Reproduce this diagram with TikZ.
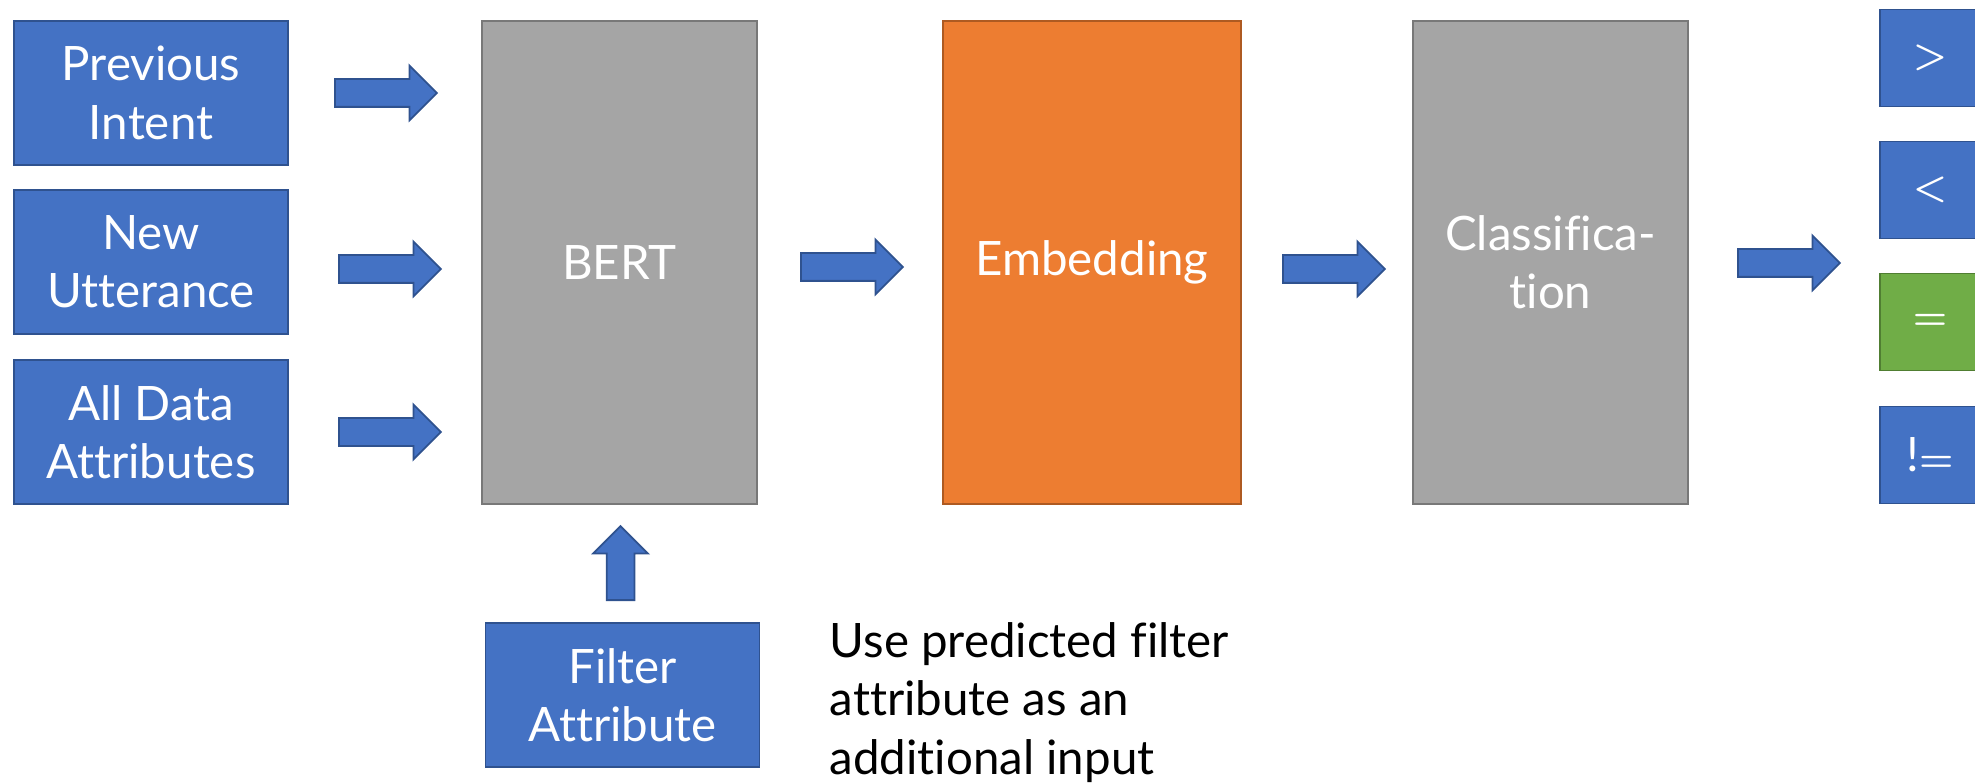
\documentclass[tikz,border=0pt]{standalone}
\usepackage{fontspec}
\setmainfont{Lato}[Ligatures=NoCommon]
\usetikzlibrary{shapes.arrows}

\definecolor{inblue}{HTML}{4472C4}
\definecolor{inblueline}{HTML}{2F528F}
\definecolor{stagegray}{HTML}{A5A5A5}
\definecolor{stageline}{HTML}{787878}
\definecolor{emborange}{HTML}{ED7D31}
\definecolor{embline}{HTML}{AE5A21}
\definecolor{opgreen}{HTML}{70AD47}
\definecolor{opline}{HTML}{507E32}

\newcommand\opsym[1]{{\fontsize{10.5}{12}\selectfont\boldmath$#1$}}

\tikzset{
  bigtext/.style  = {font=\fontsize{13.5}{16.6}\selectfont},
  inbox/.style    = {bigtext, draw=inblueline, fill=inblue, text=white, line width=0.5pt,
                     minimum width=2.74cm, minimum height=1.44cm, align=center, inner sep=0pt},
  stage/.style    = {bigtext, draw=stageline, fill=stagegray, text=white, line width=0.5pt,
                     minimum width=2.75cm, minimum height=4.83cm, align=center, inner sep=0pt},
  opbox/.style    = {bigtext, draw=inblueline, fill=inblue, text=white, line width=0.5pt,
                     minimum width=1.00cm, minimum height=0.97cm, inner sep=0pt},
  fatarrow/.style = {single arrow, draw=inblueline, fill=inblue, line width=0.5pt, anchor=tail,
                     inner xsep=0pt, inner ysep=0.13cm, minimum height=1.02cm,
                     single arrow head extend=0.135cm, single arrow tip angle=90},
}

\begin{document}
\begin{tikzpicture}
        \clip (0,0) rectangle (19.75,7.82);                                  %page
        \node [inbox] (prev)   at (1.51,6.89)   {Previous\\Intent};        %inputs
        \node [inbox] (utter)  at (1.51,5.20)   {New\\Utterance};          %
        \node [inbox] (attrs)  at (1.51,3.50)   {All Data\\Attributes};    %
        \node [fatarrow] (a1)  at (3.34,6.89)   {};                        %
        \node [fatarrow] (a2)  at (3.38,5.13)   {};                        %
        \node [fatarrow] (a3)  at (3.38,3.50)   {};                        %
        \node [stage] (bert)   at (6.195,5.195) {BERT};                    %BERT
        \node [fatarrow, rotate=90, minimum height=0.74cm]
              (up) at (6.205,1.81) {};                                      %
        \node [inbox] (filter) at (6.225,0.87)  {Filter\\Attribute};       %
        \node [bigtext, anchor=north west, align=left, inner sep=0pt] (note)
              at (8.29,1.60) {Use predicted filter\\attribute as an\\additional input};
        \node [fatarrow] (a4)  at (8.00,5.15)   {};                        %
        \node [stage, minimum width=2.98cm, fill=emborange, draw=embline]
              (emb) at (10.92,5.195) {Embedding};                           %embedding
        \node [fatarrow] (a5)  at (12.82,5.13)  {};                        %
        \node [stage] (cls)    at (15.505,5.195) {Classifica-\\tion};      %classifier
        \node [fatarrow] (a6)  at (17.37,5.19)  {};                        %
        \node [opbox] (gt)     at (19.30,7.24)  {\opsym{>}};               %outputs
        \node [opbox] (lt)     at (19.30,5.92)  {\opsym{<}};               %
        \node [opbox, fill=opgreen, draw=opline] (eq) at (19.30,4.60) {\opsym{=}};
        \node [opbox] (ne)     at (19.30,3.27)  {!\opsym{=}};              %
\end{tikzpicture}
\end{document}
